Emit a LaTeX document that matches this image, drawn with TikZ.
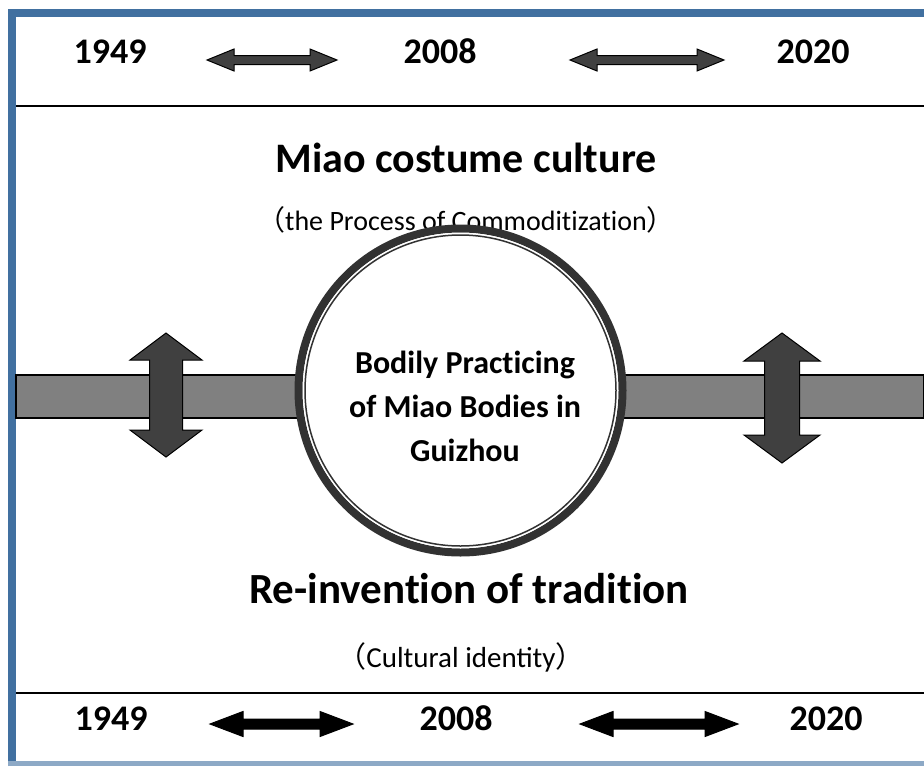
\documentclass[tikz,border=0pt]{standalone}
\usepackage{fontspec}
\setmainfont{Carlito}
\newfontfamily\cjk{Noto Sans CJK SC}
\usepackage{tikz}
\definecolor{frameblue}{RGB}{65,112,160}
\definecolor{bargray}{RGB}{128,128,128}
\definecolor{arrowgray}{RGB}{64,64,64}
\definecolor{ringgray}{RGB}{50,50,50}
% keep t and i apart (no ligature)
\newcommand{\tI}{t\kern0pt i}

\begin{document}
\begin{tikzpicture}[x=1pt,y=-1pt,
    year/.style={anchor=base,font=\fontsize{36}{40}\selectfont\bfseries},
    titletext/.style={anchor=base,font=\fontsize{42}{48}\selectfont\bfseries},
    subtext/.style={anchor=base,font=\fontsize{28}{32}\selectfont},
    blockarrow/.style={draw=black,line width=1pt,line join=miter}]
    \useasboundingbox (0,0) rectangle (924,766);

    % frame and rules
    \draw[frameblue,line width=8pt] (12,766) -- (12,12.5) -- (924,12.5);
    \draw[frameblue!60,line width=5pt] (8,763) -- (924,763);
    \draw[line width=2pt] (16,106) -- (924,106);
    \draw[line width=2pt] (16,693) -- (924,693);

    % years
    \node[year] (topA) at (110,63) {1949};
    \node[year] (topB) at (440,63) {2008};
    \node[year] (topC) at (813,63) {2020};
    \node[year] (botA) at (111,730) {1949};
    \node[year] (botB) at (456,730) {2008};
    \node[year] (botC) at (826,730) {2020};

    % headings
    \node[titletext] (costume) at (466,172) {Miao costume culture};
    \node[subtext] (commod) at (466,230) {{\cjk （}the Process of Commodi\tI za\tI on{\cjk ）}};
    \node[titletext,font=\fontsize{43}{50}\selectfont\bfseries] (reinvent) at (469,603) {Re-inven\tI on of tradi\tI on};
    \node[subtext,font=\fontsize{29}{33}\selectfont] (identity) at (461,667) {{\cjk （}Cultural identity{\cjk ）}};

    % bars
    \draw[fill=bargray,line width=1.5pt] (16,375) rectangle (300,418);
    \draw[fill=bargray,line width=1.5pt] (622,375) rectangle (924,418);

    % double arrows
    \foreach \cx/\cy/\a/\L/\h/\H/\s/\c in {
        272/60/0/130/27/11/4.5/arrowgray, 647/60/0/154/27/11/4.5/arrowgray,
        281.5/724/0/143/33/12.5/5/black, 659/724/0/158/33/12.5/5/black,
        166/395/90/124/27/36/16.5/arrowgray, 782/398/90/130/28/38/17.5/arrowgray}
      \draw[blockarrow,fill=\c,shift={(\cx,\cy)},rotate=\a]
        ({-\L/2},0) -- ({-\L/2+\h},-\H) -- ({-\L/2+\h},-\s) -- ({\L/2-\h},-\s)
        -- ({\L/2-\h},-\H) -- ({\L/2},0) -- ({\L/2-\h},\H) -- ({\L/2-\h},\s)
        -- ({-\L/2+\h},\s) -- ({-\L/2+\h},\H) -- cycle;

    % centre ring
    \node[circle,fill=white,draw=ringgray,line width=8pt,minimum size=324pt,inner sep=0pt] (core) at (460.5,390.5) {};
    \draw[white,line width=1.5pt] (core.center) circle (157);
    \draw[ringgray,line width=1.5pt] (core.center) circle (155.5);
    \node[align=center,font=\fontsize{32}{44}\selectfont\bfseries] (corelabel) at (465,406)
        {Bodily Prac\tI cing\\of Miao Bodies in\\Guizhou};
\end{tikzpicture}
\end{document}
